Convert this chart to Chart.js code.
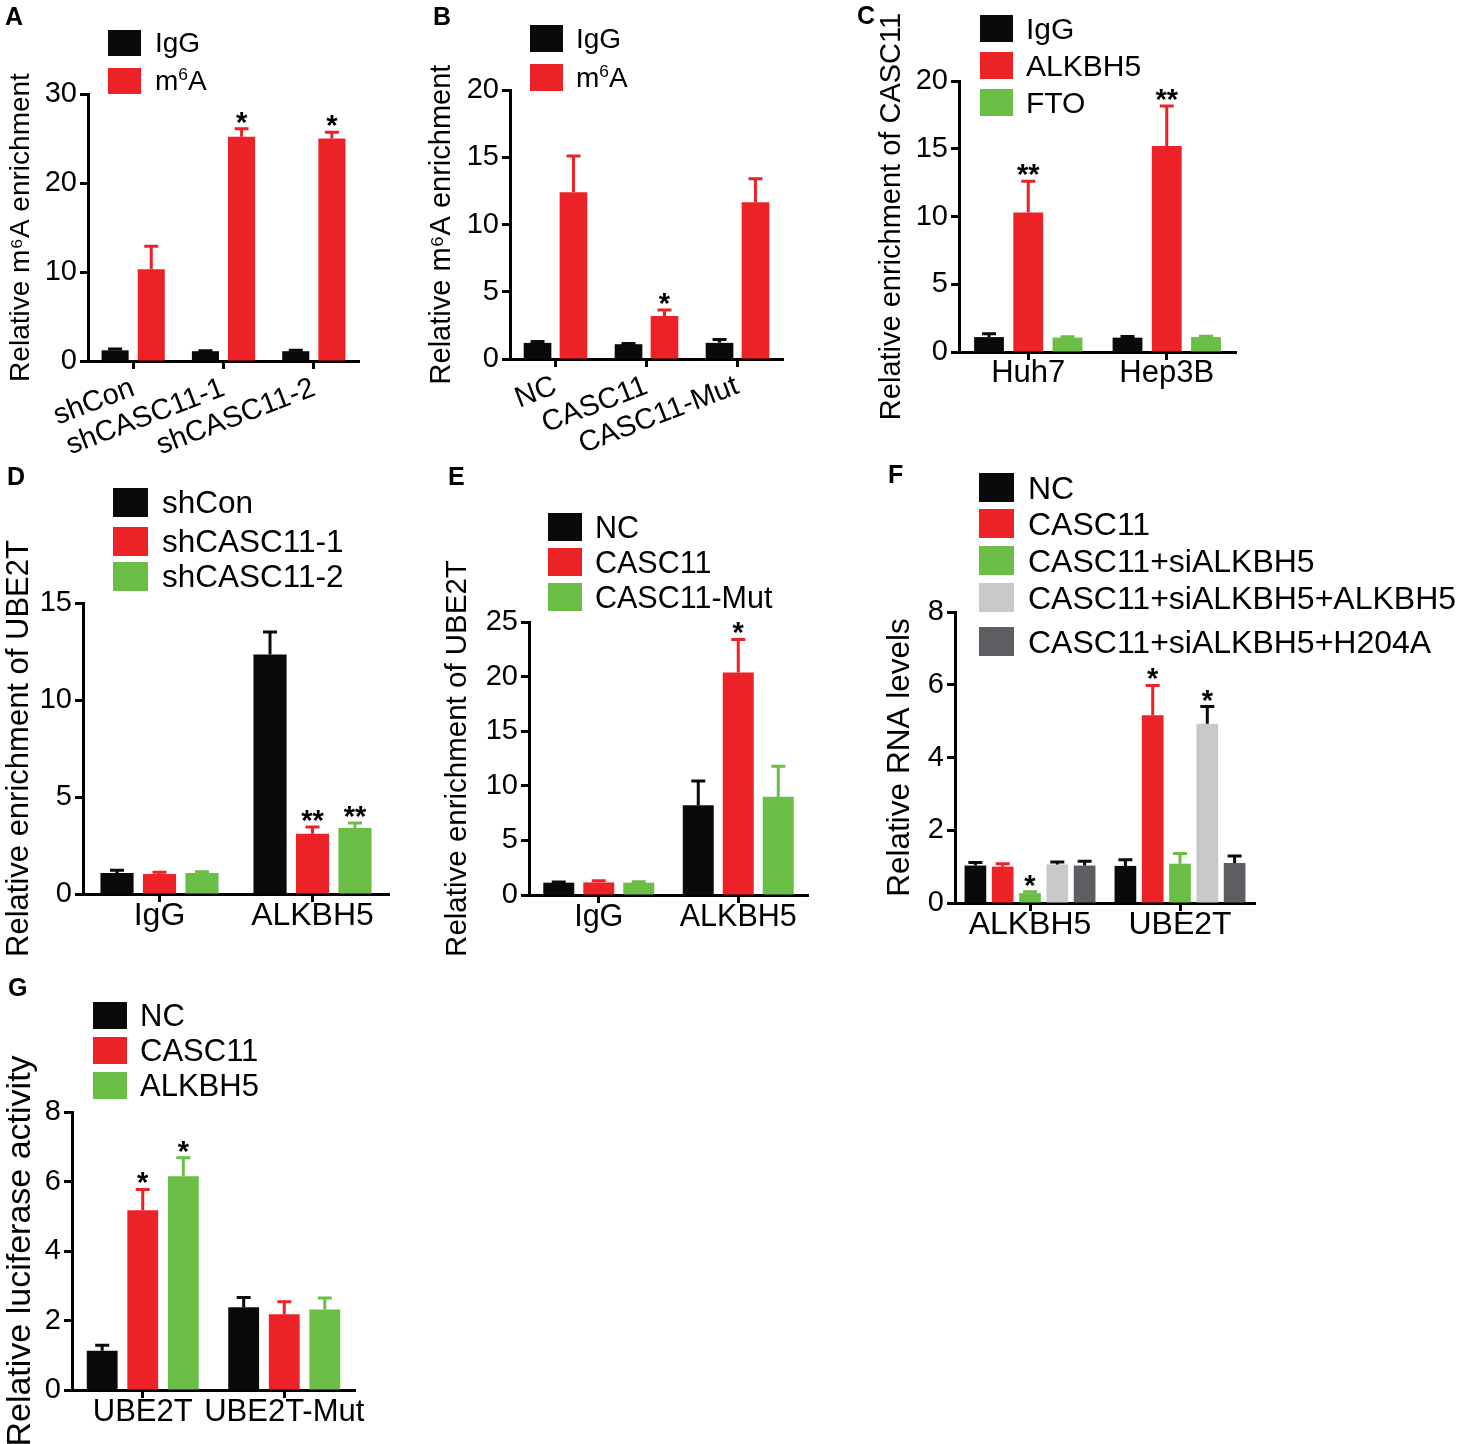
<!DOCTYPE html>
<html>
<head>
<meta charset="utf-8">
<script src="https://cdn.jsdelivr.net/npm/chart.js@4.4.1/dist/chart.umd.min.js"></script>
<style>
body { margin: 0; background: #fff; }
#fig { position: relative; width: 1464px; height: 1444px; overflow: hidden; font-family: 'Liberation Sans', Arial, sans-serif; color: #000; }
#fig canvas { position: absolute; }
.letter { position: absolute; font-weight: bold; font-size: 25px; line-height: 1; }
.item { position: absolute; display: flex; align-items: center; white-space: nowrap; line-height: 1; z-index: 2; }
.box { position: absolute; left: 0; top: 0; }
.item span.txt { position: absolute; }
sup { font-size: 62%; vertical-align: 0; position: relative; top: -0.55em; }
</style>
</head>
<body>
<div id="fig"></div>
<script>
// colours
var BLACK = '#0a0a0a', RED = '#ec2227', GREEN = '#6abd45', LGREY = '#c8c9cb', DGREY = '#5d5e61';

// ---- A ----
var aCats = ['shCon', 'shCASC11-1', 'shCASC11-2'];
var aIgG = [1.2, 1.1, 1.1];
var aIgGErr = [0.15, 0.05, 0.1];
var aM6A = [10.3, 25.2, 25.0];
var aM6AErr = [2.6, 0.9, 0.7];
var aM6AStars = ['', '*', '*'];

// ---- B ----
var bCats = ['NC', 'CASC11', 'CASC11-Mut'];
var bIgG = [1.2, 1.1, 1.2];
var bIgGErr = [0.1, 0.05, 0.25];
var bM6A = [12.4, 3.2, 11.65];
var bM6AErr = [2.7, 0.45, 1.75];
var bM6AStars = ['', '*', ''];

// ---- C ----
var cCats = ['Huh7', 'Hep3B'];
var cIgG = [1.1, 1.06];
var cIgGErr = [0.25, 0.08];
var cALKBH5 = [10.3, 15.2];
var cALKBH5Err = [2.3, 2.95];
var cALKBH5Stars = ['**', '**'];
var cFTO = [1.06, 1.1];
var cFTOErr = [0.07, 0.06];

// ---- D ----
var dCats = ['IgG', 'ALKBH5'];
var dShCon = [1.08, 12.34];
var dShConErr = [0.14, 1.16];
var dSh1 = [1.03, 3.11];
var dSh1Err = [0.09, 0.34];
var dSh2 = [1.08, 3.4];
var dSh2Err = [0.07, 0.26];
var dShStars = ['', '**'];

// ---- E ----
var eCats = ['IgG', 'ALKBH5'];
var eNC = [1.13, 8.23];
var eNCErr = [0.06, 2.2];
var eCASC11 = [1.15, 20.37];
var eCASC11Err = [0.16, 3.03];
var eCASC11Stars = ['', '*'];
var eMut = [1.13, 9.0];
var eMutErr = [0.09, 2.8];

// ---- F ----
var fCats = ['ALKBH5', 'UBE2T'];
var fNC = [1.03, 1.02];
var fNCErr = [0.08, 0.17];
var fCASC11 = [1.0, 5.16];
var fCASC11Err = [0.08, 0.82];
var fCASC11Stars = ['', '*'];
var fSi = [0.27, 1.08];
var fSiErr = [0.04, 0.28];
var fSiStars = ['*', ''];
var fRescue = [1.06, 4.93];
var fRescueErr = [0.07, 0.47];
var fRescueStars = ['', '*'];
var fH204A = [1.03, 1.1];
var fH204AErr = [0.12, 0.19];

// ---- G ----
var gCats = ['UBE2T', 'UBE2T-Mut'];
var gNC = [1.13, 2.38];
var gNCErr = [0.16, 0.28];
var gCASC11 = [5.17, 2.18];
var gCASC11Err = [0.6, 0.36];
var gALKBH5 = [6.15, 2.32];
var gALKBH5Err = [0.53, 0.33];
var gStars = ['*', ''];

Chart.defaults.font.family = "'Liberation Sans', Arial, sans-serif";
Chart.defaults.color = '#000';

// one-sided error bars + significance marks
var errorBars = {
    id: 'errorBars',
    afterDatasetsDraw: function (chart) {
        var ctx = chart.ctx, yScale = chart.scales.y;
        ctx.save();
        chart.data.datasets.forEach(function (ds, i) {
            var meta = chart.getDatasetMeta(i);
            meta.data.forEach(function (bar, j) {
                var top = yScale.getPixelForValue(ds.data[j] + ds.err[j]);
                ctx.strokeStyle = ds.errColor;
                ctx.lineWidth = 3;
                ctx.beginPath();
                ctx.moveTo(bar.x, bar.y);
                ctx.lineTo(bar.x, top);
                ctx.moveTo(bar.x - 7, top);
                ctx.lineTo(bar.x + 7, top);
                ctx.stroke();
                if (ds.stars && ds.stars[j]) {
                    ctx.fillStyle = '#000';
                    ctx.font = "bold 29px 'Liberation Sans', Arial, sans-serif";
                    ctx.textAlign = 'center';
                    ctx.textBaseline = 'alphabetic';
                    ctx.fillText(ds.stars[j], bar.x, top + 3);
                }
            });
        });
        ctx.restore();
    }
};

var fig = document.getElementById('fig');

function makePanel(p) {
    var cv = document.createElement('canvas');
    cv.width = p.w;
    cv.height = p.h;
    cv.style.left = p.left + 'px';
    cv.style.top = p.top + 'px';
    cv.style.width = p.w + 'px';
    cv.style.height = p.h + 'px';
    fig.appendChild(cv);

    var axisGrid = { display: true, drawOnChartArea: false, drawTicks: true, tickLength: 8, tickWidth: 3, tickColor: '#000', offset: false };
    var axisBorder = { display: true, color: '#000', width: 3 };

    new Chart(cv, {
        type: 'bar',
        data: {
            labels: p.cats,
            datasets: p.series.map(function (s) {
                return {
                    label: s.label,
                    data: s.data,
                    err: s.err,
                    stars: s.stars || [],
                    errColor: s.errColor || s.color,
                    backgroundColor: s.color,
                    borderWidth: 0,
                    categoryPercentage: p.cp,
                    barPercentage: p.bp
                };
            })
        },
        options: {
            responsive: false,
            animation: false,
            layout: { padding: { top: p.axisTop - p.top, right: p.left + p.w - p.axisRight, left: 0, bottom: 0 } },
            plugins: { legend: { display: false }, tooltip: { enabled: false } },
            scales: {
                x: {
                    grid: axisGrid,
                    border: axisBorder,
                    ticks: { color: '#000', font: { size: p.xFont }, padding: p.xPad, autoSkip: false, minRotation: p.rot, maxRotation: p.rot },
                    afterFit: function (s) { s.height = p.top + p.h - p.axisBottom; }
                },
                y: {
                    min: 0,
                    max: p.yMax,
                    grid: axisGrid,
                    border: axisBorder,
                    ticks: { stepSize: p.yStep, color: '#000', font: { size: 29 }, padding: 3 },
                    title: { display: true, text: p.yTitle, color: '#000', font: { size: p.titleFont }, padding: { top: 4, bottom: 0 } },
                    afterFit: function (s) { s.width = p.axisLeft - p.left; }
                }
            }
        },
        plugins: [errorBars]
    });

    // legend in the top-left corner of the panel
    var lg = p.legend;
    p.series.forEach(function (s, i) {
        var it = document.createElement('div');
        it.className = 'item';
        it.style.left = lg.x + 'px';
        it.style.top = lg.tops[i] + 'px';
        it.style.height = lg.boxH + 'px';
        it.style.fontSize = lg.font + 'px';
        var bx = document.createElement('span');
        bx.className = 'box';
        bx.style.width = lg.boxW + 'px';
        bx.style.height = lg.boxH + 'px';
        bx.style.background = s.color;
        var tx = document.createElement('span');
        tx.className = 'txt';
        tx.style.left = (lg.textX - lg.x) + 'px';
        tx.innerHTML = s.label.replace('⁶', '<sup>6</sup>');
        it.appendChild(bx);
        it.appendChild(tx);
        fig.appendChild(it);
    });

    var L = document.createElement('div');
    L.className = 'letter';
    L.textContent = p.letter;
    L.style.left = p.letterX + 'px';
    L.style.top = (p.letterY - 3) + 'px';
    fig.appendChild(L);
}

makePanel({
    letter: 'A', letterX: 5, letterY: 7,
    left: 0, top: 0, w: 380, h: 460,
    axisLeft: 88, axisTop: 94, axisBottom: 361, axisRight: 359,
    yMax: 30, yStep: 10, yTitle: 'Relative m⁶A enrichment', titleFont: 28,
    xFont: 29, xPad: 2, rot: 21, cp: 0.8, bp: 0.75,
    cats: aCats,
    series: [
        { label: 'IgG', data: aIgG, err: aIgGErr, color: BLACK },
        { label: 'm⁶A', data: aM6A, err: aM6AErr, stars: aM6AStars, color: RED }
    ],
    legend: { x: 108, tops: [30, 68], boxW: 33, boxH: 26, textX: 155, font: 28 }
});

makePanel({
    letter: 'B', letterX: 433, letterY: 7,
    left: 421, top: 0, w: 380, h: 460,
    axisLeft: 510, axisTop: 90, axisBottom: 359, axisRight: 783,
    yMax: 20, yStep: 5, yTitle: 'Relative m⁶A enrichment', titleFont: 29,
    xFont: 29, xPad: 2, rot: 21, cp: 0.79, bp: 0.77,
    cats: bCats,
    series: [
        { label: 'IgG', data: bIgG, err: bIgGErr, color: BLACK },
        { label: 'm⁶A', data: bM6A, err: bM6AErr, stars: bM6AStars, color: RED }
    ],
    legend: { x: 530, tops: [25, 64], boxW: 33, boxH: 27, textX: 576, font: 28 }
});

makePanel({
    letter: 'C', letterX: 857, letterY: 6,
    left: 871, top: 0, w: 390, h: 460,
    axisLeft: 959, axisTop: 81, axisBottom: 352, axisRight: 1236,
    yMax: 20, yStep: 5, yTitle: 'Relative enrichment of CASC11', titleFont: 29,
    xFont: 31, xPad: -5, rot: 0, cp: 0.85, bp: 0.76,
    cats: cCats,
    series: [
        { label: 'IgG', data: cIgG, err: cIgGErr, color: BLACK },
        { label: 'ALKBH5', data: cALKBH5, err: cALKBH5Err, stars: cALKBH5Stars, color: RED },
        { label: 'FTO', data: cFTO, err: cFTOErr, color: GREEN }
    ],
    legend: { x: 980, tops: [15, 52, 89], boxW: 33, boxH: 27, textX: 1026, font: 30 }
});

makePanel({
    letter: 'D', letterX: 7, letterY: 467,
    left: -3, top: 460, w: 420, h: 500,
    axisLeft: 83, axisTop: 603, axisBottom: 894, axisRight: 389,
    yMax: 15, yStep: 5, yTitle: 'Relative enrichment of UBE2T', titleFont: 31,
    xFont: 32, xPad: -5, rot: 0, cp: 0.833, bp: 0.78,
    cats: dCats,
    series: [
        { label: 'shCon', data: dShCon, err: dShConErr, color: BLACK },
        { label: 'shCASC11-1', data: dSh1, err: dSh1Err, stars: dShStars, color: RED },
        { label: 'shCASC11-2', data: dSh2, err: dSh2Err, stars: dShStars, color: GREEN }
    ],
    legend: { x: 113, tops: [488, 527, 562], boxW: 35, boxH: 29, textX: 162, font: 31.5 }
});

makePanel({
    letter: 'E', letterX: 448, letterY: 467,
    left: 436, top: 460, w: 400, h: 500,
    axisLeft: 529, axisTop: 622, axisBottom: 895, axisRight: 808,
    yMax: 25, yStep: 5, yTitle: 'Relative enrichment of UBE2T', titleFont: 29.5,
    xFont: 30.5, xPad: -4, rot: 0, cp: 0.86, bp: 0.775,
    cats: eCats,
    series: [
        { label: 'NC', data: eNC, err: eNCErr, color: BLACK },
        { label: 'CASC11', data: eCASC11, err: eCASC11Err, stars: eCASC11Stars, color: RED },
        { label: 'CASC11-Mut', data: eMut, err: eMutErr, color: GREEN }
    ],
    legend: { x: 548, tops: [513, 548, 583], boxW: 34, boxH: 28, textX: 595, font: 30.5 }
});

makePanel({
    letter: 'F', letterX: 888, letterY: 465,
    left: 877, top: 460, w: 400, h: 500,
    axisLeft: 955, axisTop: 612, axisBottom: 903, axisRight: 1255,
    yMax: 8, yStep: 2, yTitle: 'Relative RNA levels', titleFont: 31.5,
    xFont: 32, xPad: -5, rot: 0, cp: 0.91, bp: 0.795,
    cats: fCats,
    series: [
        { label: 'NC', data: fNC, err: fNCErr, color: BLACK },
        { label: 'CASC11', data: fCASC11, err: fCASC11Err, stars: fCASC11Stars, color: RED },
        { label: 'CASC11+siALKBH5', data: fSi, err: fSiErr, stars: fSiStars, color: GREEN },
        { label: 'CASC11+siALKBH5+ALKBH5', data: fRescue, err: fRescueErr, stars: fRescueStars, color: LGREY, errColor: BLACK },
        { label: 'CASC11+siALKBH5+H204A', data: fH204A, err: fH204AErr, color: DGREY, errColor: BLACK }
    ],
    legend: { x: 979, tops: [473, 509, 546, 583, 627], boxW: 35, boxH: 29, textX: 1028, font: 32 }
});

makePanel({
    letter: 'G', letterX: 8, letterY: 978,
    left: -4, top: 970, w: 400, h: 474,
    axisLeft: 72, axisTop: 1112, axisBottom: 1390, axisRight: 355,
    yMax: 8, yStep: 2, yTitle: 'Relative luciferase activity', titleFont: 34,
    xFont: 31, xPad: -4, rot: 0, cp: 0.86, bp: 0.76,
    cats: gCats,
    series: [
        { label: 'NC', data: gNC, err: gNCErr, color: BLACK },
        { label: 'CASC11', data: gCASC11, err: gCASC11Err, stars: gStars, color: RED },
        { label: 'ALKBH5', data: gALKBH5, err: gALKBH5Err, stars: gStars, color: GREEN }
    ],
    legend: { x: 93, tops: [1002, 1037, 1072], boxW: 34, boxH: 27, textX: 140, font: 31 }
});
</script>
</body>
</html>
